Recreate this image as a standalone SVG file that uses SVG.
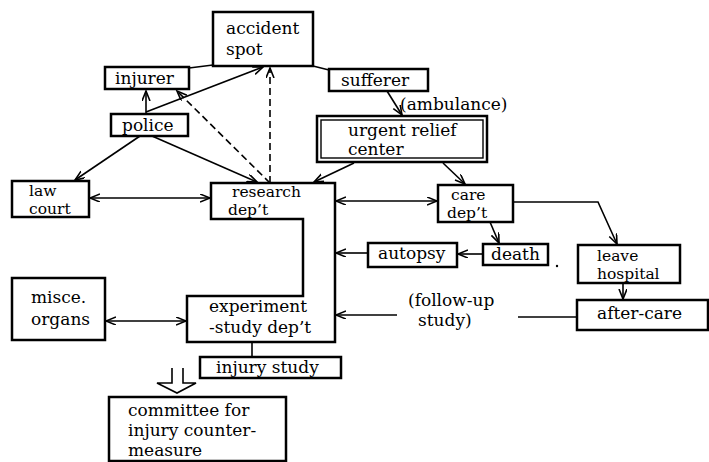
<svg xmlns="http://www.w3.org/2000/svg" width="709" height="462" viewBox="0 0 709 462">
<style>
  .box { fill: #fff; stroke: #000; stroke-width: 2.5; }
  .t { font-family: "DejaVu Serif", "Liberation Serif", serif; font-size: 17px; fill: #000; }
  .t2 { font-family: "DejaVu Serif", "Liberation Serif", serif; font-size: 15.5px; fill: #000; }
  .c { fill: none; stroke: #000; stroke-width: 1.6; }
  .d { fill: none; stroke: #000; stroke-width: 1.6; stroke-dasharray: 7 4; }
</style>
<defs>
  <marker id="ah" markerWidth="12" markerHeight="10" refX="10" refY="4" orient="auto-start-reverse" markerUnits="userSpaceOnUse">
    <path d="M0,0 L10,4 L0,8" fill="none" stroke="#000" stroke-width="1.6"/>
  </marker>
</defs>
<rect width="709" height="462" fill="#fff"/>

<g id="connectors">
  <line class="c" x1="146" y1="114" x2="146" y2="91" marker-end="url(#ah)"/>
  <line class="c" x1="146" y1="112" x2="263" y2="67" marker-end="url(#ah)"/>
  <line class="c" x1="140" y1="136" x2="75" y2="180" marker-end="url(#ah)"/>
  <line class="c" x1="152" y1="136" x2="257" y2="182" marker-end="url(#ah)"/>
  <line class="d" x1="270" y1="183" x2="177" y2="91" marker-end="url(#ah)"/>
  <line class="d" x1="270" y1="183" x2="270" y2="68" marker-end="url(#ah)"/>
  <line class="c" x1="189" y1="68" x2="213" y2="65"/>
  <line class="c" x1="313" y1="66" x2="329" y2="70"/>
  <line class="c" x1="387" y1="91" x2="402" y2="115" marker-end="url(#ah)"/>
  <line class="c" x1="354" y1="163" x2="314" y2="182" marker-end="url(#ah)"/>
  <line class="c" x1="443" y1="163" x2="465" y2="184" marker-end="url(#ah)"/>
  <line class="c" x1="90" y1="198" x2="210" y2="198" marker-start="url(#ah)" marker-end="url(#ah)"/>
  <line class="c" x1="336" y1="201" x2="437" y2="201" marker-start="url(#ah)" marker-end="url(#ah)"/>
  <polyline class="c" points="513,202 598,202 617,244" marker-end="url(#ah)"/>
  <line class="c" x1="490" y1="222" x2="499" y2="243" marker-end="url(#ah)"/>
  <line class="c" x1="483" y1="254" x2="458" y2="254" marker-end="url(#ah)"/>
  <line class="c" x1="368" y1="253" x2="336" y2="253" marker-end="url(#ah)"/>
  <line class="c" x1="623" y1="283" x2="623" y2="299" marker-end="url(#ah)"/>
  <line class="c" x1="577" y1="317" x2="518" y2="317"/>
  <line class="c" x1="397" y1="315" x2="336" y2="315" marker-end="url(#ah)"/>
  <line class="c" x1="106" y1="321" x2="186" y2="321" marker-start="url(#ah)" marker-end="url(#ah)"/>
  <line class="c" x1="252" y1="342" x2="252" y2="357"/>
  <path class="c" d="M172,368 V383 H157 L177,393 L196,383 H183 V368"/>
</g>

<g id="accident-spot">
  <rect class="box" x="213" y="12" width="100" height="54"/>
  <text class="t" x="226" y="34">accident</text>
  <text class="t" x="226" y="55">spot</text>
</g>
<g id="injurer">
  <rect class="box" x="105" y="67" width="84" height="22"/>
  <text class="t" x="115" y="84">injurer</text>
</g>
<g id="sufferer">
  <rect class="box" x="329" y="69" width="99" height="22"/>
  <text class="t" x="341" y="86">sufferer</text>
</g>
<text class="t" x="400" y="110">(ambulance)</text>
<g id="police">
  <rect class="box" x="111" y="114" width="77" height="22"/>
  <text class="t" x="122" y="131">police</text>
</g>
<g id="urgent-relief-center">
  <rect class="box" x="317" y="116" width="170" height="46" stroke-width="2.6"/>
  <rect x="321" y="120" width="162" height="38" fill="none" stroke="#000" stroke-width="1.4"/>
  <text class="t" x="348" y="136">urgent relief</text>
  <text class="t" x="348" y="155">center</text>
</g>
<g id="law-court">
  <rect class="box" x="12" y="181" width="77" height="36"/>
  <text class="t2" x="29" y="196">law</text>
  <text class="t2" x="29" y="214">court</text>
</g>
<g id="research-dept">
  <polygon class="box" points="211,183 335,183 335,342 187,342 187,296 303,296 303,219 211,219"/>
  <text class="t2" x="232" y="197">research</text>
  <text class="t2" x="228" y="215">dep’t</text>
</g>
<g id="experiment-study-dept">
  <text class="t" x="209" y="312">experiment</text>
  <text class="t" x="209" y="333">-study dep’t</text>
</g>
<g id="care-dept">
  <rect class="box" x="438" y="185" width="75" height="37"/>
  <text class="t2" x="451" y="200">care</text>
  <text class="t2" x="447" y="218">dep’t</text>
</g>
<g id="autopsy">
  <rect class="box" x="368" y="243" width="89" height="24"/>
  <text class="t" x="378" y="259">autopsy</text>
</g>
<g id="death">
  <rect class="box" x="483" y="244" width="65" height="21"/>
  <text class="t" x="491" y="260">death</text>
</g>
<circle cx="557" cy="266" r="1.2" fill="#000"/>
<g id="leave-hospital">
  <rect class="box" x="578" y="245" width="102" height="38"/>
  <text class="t2" x="597" y="261">leave</text>
  <text class="t2" x="597" y="279">hospital</text>
</g>
<g id="after-care">
  <rect class="box" x="577" y="300" width="131" height="30"/>
  <text class="t" x="597" y="319">after-care</text>
</g>
<g id="follow-up-study">
  <text class="t" x="408" y="306">(follow-up</text>
  <text class="t" x="418" y="326">study)</text>
</g>
<g id="misce-organs">
  <rect class="box" x="12" y="278" width="93" height="62"/>
  <text class="t" x="31" y="303">misce.</text>
  <text class="t" x="31" y="325">organs</text>
</g>
<g id="injury-study">
  <rect class="box" x="200" y="357" width="141" height="21"/>
  <text class="t" x="216" y="373">injury study</text>
</g>
<g id="committee">
  <rect class="box" x="109" y="397" width="177" height="64"/>
  <text class="t" x="128" y="416">committee for</text>
  <text class="t" x="128" y="436">injury counter-</text>
  <text class="t" x="128" y="456">measure</text>
</g>
</svg>
